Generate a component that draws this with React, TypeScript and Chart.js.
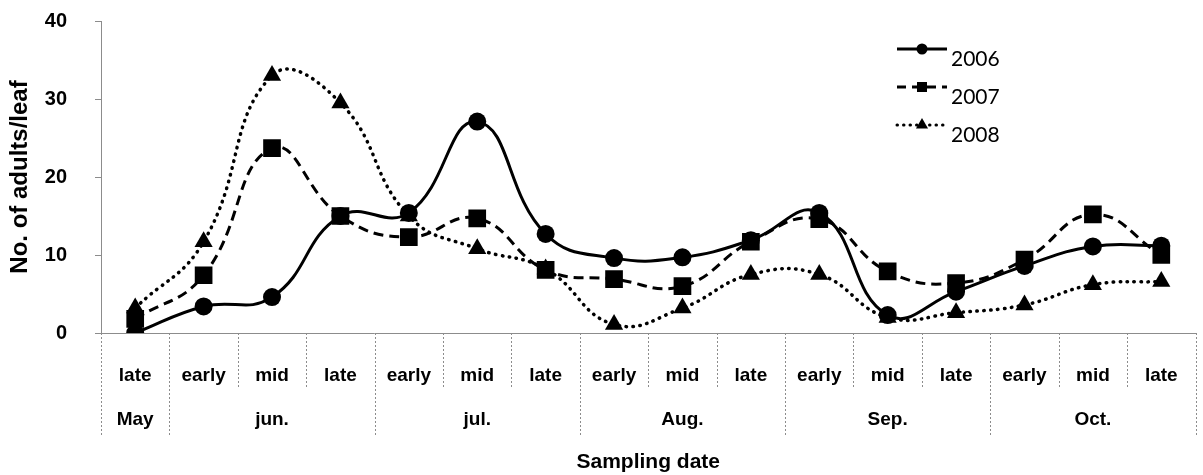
import React, { useEffect, useRef } from 'react';
import { Chart, registerables } from 'chart.js';

Chart.register(...registerables);

const subLabels = ['late', 'early', 'mid', 'late', 'early', 'mid', 'late', 'early', 'mid', 'late', 'early', 'mid', 'late', 'early', 'mid', 'late'];
const monthLabels = ['May', 'jun.', 'jul.', 'Aug.', 'Sep.', 'Oct.'];
const monthSpans = [1, 3, 3, 3, 3, 3];
const seriesNames = ['2006', '2007', '2008'];
const values2006 = [0, 3.4, 4.6, 15.0, 15.4, 27.1, 12.7, 9.6, 9.7, 11.9, 15.4, 2.3, 5.3, 8.6, 11.1, 11.2];
const values2007 = [1.8, 7.4, 23.7, 15.0, 12.3, 14.7, 8.1, 6.9, 6.0, 11.7, 14.6, 7.9, 6.4, 9.4, 15.2, 10.0];
const values2008 = [3.2, 11.7, 33.0, 29.5, 15.0, 10.8, 8.2, 1.1, 3.2, 7.5, 7.5, 2.0, 2.6, 3.6, 6.2, 6.6];
const yMin = 0;
const yMax = 40;
const yStep = 10;

const BOLD = '"Liberation Sans", Arial, sans-serif';
const GRID = '#8c8c8c';

function drawMarker(ctx: CanvasRenderingContext2D, style: string, x: number, y: number, r: number) {
  ctx.beginPath();
  if (style === 'circle') {
    ctx.arc(x, y, r, 0, Math.PI * 2);
  } else if (style === 'rect') {
    ctx.rect(x - r, y - r, 2 * r, 2 * r);
  } else {
    const h = r * 1.5;
    const w = r * Math.sqrt(3);
    ctx.moveTo(x, y - r);
    ctx.lineTo(x + w / 2, y - r + h);
    ctx.lineTo(x - w / 2, y - r + h);
    ctx.closePath();
  }
  ctx.fill();
}

const decorPlugin = {
  id: 'decor',
  afterDraw(chart: any) {
    const { ctx, chartArea } = chart;
    const x = chart.scales.x;
    const bottom = chartArea.bottom;
    ctx.save();
    // separators under the axis
    ctx.strokeStyle = GRID;
    ctx.lineWidth = 1;
    ctx.setLineDash([2, 2]);
    const monthEnds = new Set<number>();
    let acc = 0;
    monthSpans.forEach((s) => {
      acc += s;
      monthEnds.add(acc - 1);
    });
    for (let i = -1; i < subLabels.length; i++) {
      const px = Math.round(x.getPixelForValue(i + 0.5)) + 0.5;
      const isMonth = i === -1 || monthEnds.has(i);
      ctx.beginPath();
      ctx.moveTo(px, bottom);
      ctx.lineTo(px, bottom + (isMonth ? 104 : 54));
      ctx.stroke();
    }
    // month labels
    ctx.setLineDash([]);
    ctx.fillStyle = '#000';
    ctx.font = 'bold 19px ' + BOLD;
    ctx.textAlign = 'center';
    ctx.textBaseline = 'middle';
    let start = 0;
    monthLabels.forEach((m, k) => {
      const end = start + monthSpans[k] - 1;
      const cx = (x.getPixelForValue(start) + x.getPixelForValue(end)) / 2;
      ctx.fillText(m, cx, bottom + 87);
      start = end + 1;
    });
    // legend
    const legendStyles = [
      { dash: [] as number[], cap: 'butt', shape: 'circle', r: 5.5 },
      { dash: [9, 6], cap: 'butt', shape: 'rect', r: 5 },
      { dash: [0.5, 6], cap: 'round', shape: 'triangle', r: 7 },
    ];
    const lx0 = 897;
    const lx1 = 947;
    chart.data.datasets.forEach((ds: any, k: number) => {
      const st = legendStyles[k];
      const ly = 49 + k * 38;
      ctx.strokeStyle = '#000';
      ctx.fillStyle = '#000';
      ctx.lineWidth = 3;
      ctx.lineCap = st.cap;
      ctx.setLineDash(st.dash);
      ctx.beginPath();
      ctx.moveTo(lx0, ly);
      ctx.lineTo(lx1, ly);
      ctx.stroke();
      ctx.setLineDash([]);
      drawMarker(ctx, st.shape, (lx0 + lx1) / 2, ly, st.r);
      ctx.font = '21px Lato, "Open Sans", sans-serif';
      ctx.textAlign = 'left';
      ctx.textBaseline = 'middle';
      ctx.fillText(ds.label, lx1 + 4, ly + 10);
    });
    ctx.restore();
  },
};

export default function App() {
  const ref = useRef<HTMLCanvasElement | null>(null);

  useEffect(() => {
    document.documentElement.style.overflow = 'hidden';
    document.body.style.margin = '0';
    document.body.style.overflow = 'hidden';
    const canvas = ref.current;
    if (!canvas) return;
    const chart = new Chart(canvas, {
      type: 'line',
      data: {
        labels: subLabels,
        datasets: [
          {
            label: seriesNames[0],
            data: values2006,
            borderColor: '#000',
            backgroundColor: '#000',
            borderWidth: 3,
            pointStyle: 'circle',
            pointRadius: 9,
            pointBorderWidth: 0,
            pointBackgroundColor: '#000',
          },
          {
            label: seriesNames[1],
            data: values2007,
            borderColor: '#000',
            backgroundColor: '#000',
            borderWidth: 3,
            borderDash: [10, 6],
            pointStyle: 'rect',
            pointRadius: 12.5,
            pointBorderWidth: 0,
            pointBackgroundColor: '#000',
          },
          {
            label: seriesNames[2],
            data: values2008,
            borderColor: '#000',
            backgroundColor: '#000',
            borderWidth: 3.5,
            borderDash: [0.5, 6.5],
            borderCapStyle: 'round',
            pointStyle: 'triangle',
            pointRadius: 10.5,
            pointBorderWidth: 0,
            pointBackgroundColor: '#000',
          },
        ],
      },
      options: {
        responsive: false,
        animation: false,
        devicePixelRatio: 1,
        layout: { padding: { top: 21, left: 0, right: 0, bottom: 0 } },
        elements: { line: { tension: 0.45, fill: false } },
        plugins: { legend: { display: false }, tooltip: { enabled: false } },
        scales: {
          x: {
            type: 'category',
            offset: true,
            grid: { display: false },
            border: { display: true, color: GRID, width: 1, dash: [2, 2] },
            ticks: {
              color: '#000',
              font: { family: BOLD, size: 19, weight: 'bold' },
              padding: 23,
              maxRotation: 0,
              autoSkip: false,
            },
            title: {
              display: true,
              text: 'Sampling date',
              color: '#000',
              font: { family: BOLD, size: 21, weight: 'bold' },
              padding: 0,
            },
            afterFit: (s: any) => {
              s.height = 142;
            },
          },
          y: {
            min: yMin,
            max: yMax,
            grid: { drawOnChartArea: false, drawTicks: true, tickLength: 6, color: GRID },
            border: { display: true, color: GRID, width: 1, dash: [2, 2] },
            ticks: {
              stepSize: yStep,
              color: '#000',
              font: { family: BOLD, size: 20, weight: 'bold' },
              padding: 28,
            },
            title: {
              display: true,
              text: 'No. of adults/leaf',
              color: '#000',
              font: { family: BOLD, size: 24, weight: 'bold' },
              padding: { top: 6, bottom: 0 },
            },
            afterFit: (s: any) => {
              s.width = 101;
              s.paddingTop = 0;
              s.paddingBottom = 0;
            },
          },
        },
      },
      plugins: [decorPlugin],
    } as any);
    return () => chart.destroy();
  }, []);

  return (
    <div style={{ position: 'absolute', left: 0, top: 0, width: 1208, height: 475 }}>
      <canvas ref={ref} width={1208} height={475} style={{ display: 'block' }} />
    </div>
  );
}
